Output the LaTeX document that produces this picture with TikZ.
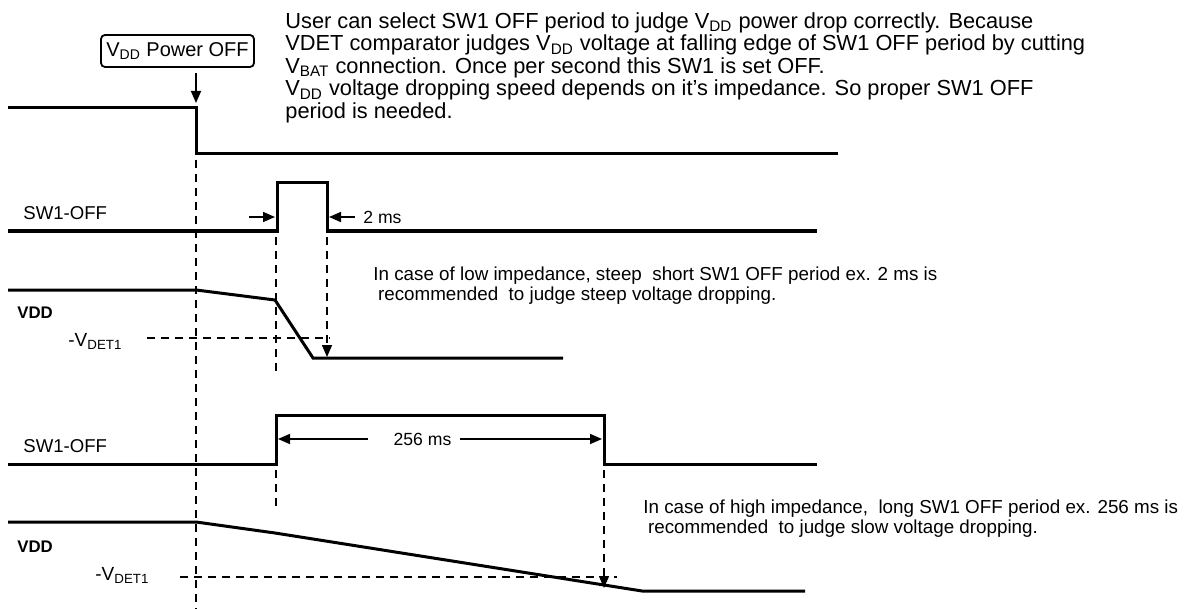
\documentclass[tikz,border=0pt]{standalone}
\usepackage{fontspec}
\setmainfont{Liberation Sans}
\usetikzlibrary{positioning,arrows.meta,calc}
\newcommand{\sbs}[1]{\textsubscript{#1}}

\begin{document}
\begin{tikzpicture}[x=0.5pt,y=-0.5pt,
  sig/.style={line width=1.5pt, line join=miter},
  guide/.style={line width=0.8pt, dash pattern=on 4pt off 3pt},
  tip/.style={-{Triangle[length=6pt,width=5pt]}, line width=0.8pt},
  note/.style={font=\fontsize{10.9}{11.3}\selectfont, align=left, anchor=north west, inner sep=0pt},
  hint/.style={font=\fontsize{9.4}{10}\selectfont, align=left, anchor=north west, inner sep=0pt},
  siglbl/.style={font=\fontsize{9.3}{11}\selectfont, anchor=west, inner sep=0pt},
  vddlbl/.style={font=\fontsize{8.4}{9}\selectfont\bfseries, anchor=west, inner sep=0pt},
  detlbl/.style={font=\fontsize{9.5}{11}\selectfont, anchor=west, inner sep=0pt},
  dim/.style={font=\fontsize{8.8}{11}\selectfont, inner sep=0pt}
]
  \useasboundingbox (0,0) rectangle (1187,609);

  % --- notes on top ---
  \node[note] (note) at (285,12) {User can select SW1 OFF period to judge V\sbs{DD} power drop correctly. Because\\
    VDET comparator judges V\sbs{DD} voltage at falling edge of SW1 OFF period by cutting\\
    V\sbs{BAT} connection. Once per second this SW1 is set OFF.\\
    V\sbs{DD} voltage dropping speed depends on it’s impedance. So proper SW1 OFF\\
    period is needed.};
  \node[draw, rounded corners=2pt, line width=0.9pt, font=\fontsize{10}{12}\selectfont,
    inner sep=1pt, minimum width=76.5pt, minimum height=16pt] (poweroff) at (177.5,51) {V\sbs{DD} Power OFF};
  \coordinate (offtip) at (196,103);
  \draw[tip] ($(poweroff.south -| offtip)+(0,5)$) -- (offtip);

  % --- supply line ---
  \draw[sig] (8,108) -- (196,108) -- (196,154) -- (838,154);

  % --- short SW1-OFF (2 ms) ---
  \node[siglbl] (swa) at (23,213) {SW1-OFF};
  \draw[sig] (8,231) -- (277,231) -- (277,183) -- (327,183) -- (327,231) -- (817,231);
  \node[dim, anchor=west] (ms2) at (363,217) {2 ms};
  \coordinate (rise2) at (275,217);
  \coordinate (fall2) at (329,217);
  \draw[tip] ($(rise2)+(-26,0)$) -- (rise2);
  \draw[tip] ($(ms2.west)+(-8,0)$) -- (fall2);

  % --- VDD, low impedance ---
  \node[vddlbl] (vdda) at (17,313) {VDD};
  \node[detlbl] (deta) at (68,341) {-V\sbs{DET1}};
  \draw[sig] (8,290) -- (196,290) -- (275,300) -- (313,358) -- (563,358);
  \node[hint] (lowtxt) at (373,266) {In case of low impedance, steep\ \ short SW1 OFF period ex. 2 ms is\\
    \hspace*{0.25em}recommended\ \ to judge steep voltage dropping.};

  % --- long SW1-OFF (256 ms) ---
  \node[siglbl] (swb) at (23,446) {SW1-OFF};
  \draw[sig] (8,464) -- (276,464) -- (276,415) -- (604,415) -- (604,464) -- (817,464);
  \node[dim] (ms256) at (422.5,439) {256 ms};
  \coordinate (rise256) at (278,439);
  \coordinate (fall256) at (602,439);
  \draw[tip] ($(ms256.west)+(-25,0)$) -- (rise256);
  \draw[tip] ($(ms256.east)+(8,0)$) -- (fall256);

  % --- VDD, high impedance ---
  \node[vddlbl] (vddb) at (17,547) {VDD};
  \node[detlbl] (detb) at (95,575) {-V\sbs{DET1}};
  \draw[sig] (8,522) -- (196,522) -- (275,533) -- (642,591) -- (805,591);
  \node[hint] (hightxt) at (643,499) {In case of high impedance,\ \ long SW1 OFF period ex. 256 ms is\\
    \hspace*{0.25em}recommended\ \ to judge slow voltage dropping.};

  % --- dashed guides ---
  \draw[guide] (196,160) -- (196,609);
  \draw[guide] (276,237) -- (276,372);
  \draw[guide, -{Triangle[length=6pt,width=5pt]}] (327,237) -- (327,357);
  \draw[guide] (147,338) -- (330,338);
  \draw[guide] (276,470) -- (276,508);
  \draw[guide, -{Triangle[length=6pt,width=5pt]}] (604,470) -- (604,588);
  \draw[guide] (180,577) -- (617,577);
\end{tikzpicture}
\end{document}
